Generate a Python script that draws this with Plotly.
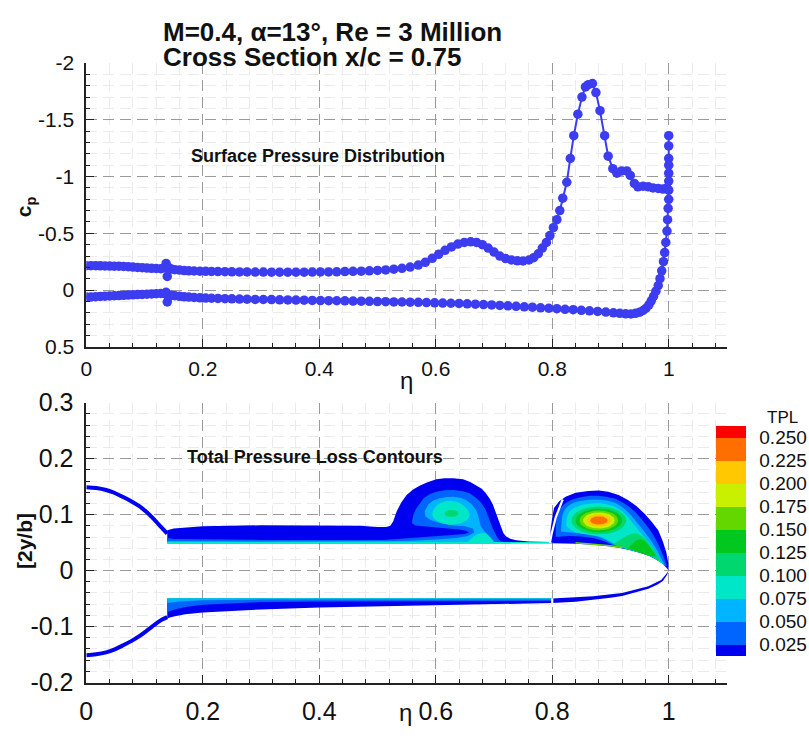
import math
import plotly.graph_objects as go

W, H = 809, 736

# ---------------- Surface pressure data ----------------
cp_upper_eta = [0.000, 0.008, 0.016, 0.024, 0.032, 0.040, 0.048, 0.056, 0.064, 0.072,
                0.080, 0.088, 0.096, 0.104, 0.112, 0.120, 0.128, 0.134, 0.137, 0.139,
                0.141, 0.146, 0.152, 0.160, 0.168, 0.176, 0.185, 0.195, 0.205, 0.215,
                0.226, 0.238, 0.250, 0.263, 0.276, 0.290, 0.304, 0.318, 0.332, 0.346,
                0.360, 0.374, 0.388, 0.402, 0.416, 0.430, 0.444, 0.458, 0.472, 0.486,
                0.500, 0.514, 0.528, 0.542, 0.556, 0.570, 0.582, 0.594, 0.605, 0.616,
                0.627, 0.638, 0.649, 0.660, 0.670, 0.680, 0.690, 0.700, 0.710, 0.720,
                0.730, 0.740, 0.750, 0.760, 0.768, 0.776, 0.783, 0.790, 0.796, 0.802,
                0.808, 0.813, 0.818, 0.825, 0.831, 0.837, 0.844, 0.851, 0.857, 0.862,
                0.869, 0.875, 0.882, 0.890, 0.896, 0.904, 0.911, 0.919, 0.928, 0.934,
                0.941, 0.947, 0.956, 0.965, 0.973, 0.982, 0.990, 0.997]
cp_upper = [-0.215, -0.215, -0.215, -0.214, -0.213, -0.212, -0.211, -0.210, -0.208, -0.206,
            -0.203, -0.200, -0.197, -0.194, -0.192, -0.190, -0.188, -0.195, -0.235, -0.120,
            -0.200, -0.185, -0.180, -0.176, -0.172, -0.170, -0.168, -0.166, -0.165, -0.164,
            -0.163, -0.162, -0.161, -0.160, -0.160, -0.159, -0.159, -0.158, -0.158, -0.158,
            -0.158, -0.158, -0.159, -0.160, -0.160, -0.161, -0.163, -0.165, -0.167, -0.170,
            -0.173, -0.178, -0.184, -0.192, -0.203, -0.220, -0.245, -0.280, -0.315, -0.350,
            -0.380, -0.405, -0.420, -0.425, -0.420, -0.400, -0.370, -0.335, -0.300, -0.278,
            -0.265, -0.258, -0.257, -0.265, -0.285, -0.320, -0.370, -0.420, -0.480, -0.550,
            -0.620, -0.700, -0.810, -0.950, -1.160, -1.360, -1.550, -1.700, -1.790, -1.810,
            -1.820, -1.740, -1.580, -1.360, -1.180, -1.070, -1.030, -1.050, -1.050, -1.010,
            -0.940, -0.910, -0.915, -0.910, -0.900, -0.895, -0.890, -0.900]

cp_lower_eta = [0.000, 0.008, 0.016, 0.024, 0.032, 0.040, 0.048, 0.056, 0.064, 0.072,
                0.080, 0.088, 0.096, 0.104, 0.112, 0.120, 0.128, 0.134, 0.137, 0.139,
                0.141, 0.146, 0.152, 0.160, 0.168, 0.176, 0.185, 0.195, 0.205, 0.215,
                0.226, 0.238, 0.250, 0.263, 0.276, 0.290, 0.304, 0.318, 0.332, 0.346,
                0.360, 0.374, 0.388, 0.402, 0.416, 0.430, 0.444, 0.458, 0.472, 0.486,
                0.500, 0.514, 0.528, 0.542, 0.556, 0.570, 0.584, 0.598, 0.612, 0.626,
                0.640, 0.654, 0.668, 0.682, 0.696, 0.710, 0.724, 0.738, 0.752, 0.766,
                0.780, 0.794, 0.808, 0.822, 0.836, 0.850, 0.864, 0.878, 0.892, 0.905,
                0.916, 0.926, 0.935, 0.943, 0.950, 0.956, 0.961, 0.966, 0.970, 0.974,
                0.978, 0.982, 0.985, 0.988, 0.991, 0.993, 0.995, 0.997, 0.998, 0.999,
                1.000, 1.000, 1.000, 1.000, 1.000, 1.000, 1.000, 1.000]
cp_lower = [0.060, 0.060, 0.058, 0.056, 0.054, 0.052, 0.050, 0.048, 0.046, 0.044,
            0.042, 0.040, 0.038, 0.036, 0.034, 0.032, 0.030, 0.030, 0.020, 0.105,
            0.060, 0.045, 0.050, 0.055, 0.059, 0.062, 0.065, 0.068, 0.070, 0.072,
            0.074, 0.076, 0.077, 0.079, 0.080, 0.082, 0.083, 0.084, 0.086, 0.087,
            0.088, 0.089, 0.091, 0.092, 0.093, 0.094, 0.095, 0.097, 0.098, 0.099,
            0.101, 0.102, 0.104, 0.105, 0.107, 0.108, 0.110, 0.112, 0.114, 0.116,
            0.118, 0.121, 0.124, 0.128, 0.131, 0.135, 0.139, 0.143, 0.147, 0.151,
            0.156, 0.160, 0.164, 0.169, 0.173, 0.178, 0.183, 0.188, 0.194, 0.200,
            0.205, 0.209, 0.210, 0.205, 0.195, 0.180, 0.160, 0.130, 0.095, 0.055,
            0.010, -0.040, -0.100, -0.170, -0.250, -0.330, -0.420, -0.520, -0.620, -0.720,
            -0.800, -0.880, -0.960, -1.030, -1.100, -1.160, -1.270, -1.360]

# ---------------- Total pressure loss contour levels ----------------
tpl_levels = [0.025, 0.050, 0.075, 0.100, 0.125, 0.150, 0.175, 0.200, 0.225, 0.250]
tpl_colors = ["#0000f0", "#0064ff", "#00b4ff", "#00e6c8", "#00d76e", "#00c81e",
              "#64d700", "#c8f000", "#ffc800", "#ff6e00", "#ff0000"]

# Filled contour regions (eta, 2y/b) vertices, each with its band index
up_l0 = [(0.139, 0.049), (0.139, 0.072), (0.15, 0.075), (0.17, 0.077), (0.2, 0.079), (0.3, 0.081),
         (0.4, 0.081), (0.47, 0.080), (0.50, 0.078), (0.515, 0.078), (0.522, 0.080), (0.527, 0.088),
         (0.533, 0.106), (0.541, 0.122), (0.550, 0.135), (0.561, 0.145), (0.573, 0.152), (0.586, 0.158),
         (0.601, 0.163), (0.615, 0.165), (0.630, 0.165), (0.647, 0.163), (0.660, 0.158), (0.670, 0.152),
         (0.679, 0.146), (0.686, 0.138), (0.693, 0.128), (0.698, 0.118), (0.702, 0.106), (0.706, 0.095),
         (0.709, 0.084), (0.712, 0.075), (0.716, 0.067), (0.721, 0.061), (0.728, 0.057), (0.738, 0.054),
         (0.76, 0.052), (0.797, 0.051), (0.797, 0.072), (0.800, 0.095), (0.803, 0.112), (0.812, 0.124),
         (0.823, 0.132), (0.840, 0.139), (0.862, 0.142), (0.880, 0.143), (0.896, 0.141), (0.914, 0.135),
         (0.930, 0.126), (0.945, 0.115), (0.959, 0.101), (0.971, 0.087), (0.982, 0.072), (0.990, 0.052),
         (0.996, 0.032), (0.999, 0.015), (1.0, 0.0), (0.99, 0.012), (0.98, 0.019), (0.965, 0.027),
         (0.94, 0.035), (0.919, 0.040), (0.90, 0.043), (0.87, 0.046), (0.84, 0.048), (0.80, 0.049)]
up_l1 = [(0.139, 0.049), (0.139, 0.058), (0.15, 0.0565), (0.2, 0.0555), (0.3, 0.0548), (0.45, 0.0545),
         (0.51, 0.0548), (0.54, 0.057), (0.57, 0.059), (0.60, 0.061), (0.63, 0.063), (0.65, 0.0655),
         (0.657, 0.068), (0.652, 0.071), (0.64, 0.0735), (0.62, 0.0755), (0.59, 0.078), (0.565, 0.0805),
         (0.559, 0.085), (0.561, 0.098), (0.566, 0.110), (0.579, 0.129), (0.590, 0.137), (0.601, 0.141),
         (0.615, 0.1435), (0.630, 0.144), (0.645, 0.142), (0.658, 0.138), (0.669, 0.130), (0.678, 0.121),
         (0.685, 0.110), (0.690, 0.098), (0.694, 0.086), (0.698, 0.075), (0.702, 0.065), (0.706, 0.058),
         (0.711, 0.053), (0.72, 0.050), (0.73, 0.049)]
up_l2 = [(0.139, 0.049), (0.139, 0.053), (0.3, 0.052), (0.50, 0.0525), (0.55, 0.053), (0.60, 0.0555),
         (0.635, 0.058), (0.655, 0.062), (0.666, 0.068), (0.664, 0.075), (0.65, 0.079), (0.628, 0.081),
         (0.608, 0.085), (0.592, 0.090), (0.582, 0.097), (0.581, 0.106), (0.587, 0.118), (0.596, 0.125),
         (0.607, 0.129), (0.619, 0.1315), (0.630, 0.132), (0.642, 0.130), (0.652, 0.126), (0.662, 0.118),
         (0.669, 0.108), (0.673, 0.098), (0.675, 0.089), (0.677, 0.080), (0.683, 0.071), (0.690, 0.063),
         (0.696, 0.056), (0.700, 0.051), (0.703, 0.049)]
up_l3_ring = [(0.594, 0.101), (0.597, 0.110), (0.604, 0.118), (0.614, 0.123), (0.626, 0.1245),
              (0.638, 0.122), (0.648, 0.116), (0.655, 0.108), (0.658, 0.100), (0.655, 0.092),
              (0.647, 0.0865), (0.636, 0.083), (0.624, 0.082), (0.612, 0.084), (0.602, 0.089),
              (0.596, 0.095), (0.594, 0.101)]
up_l3_bump = [(0.652, 0.049), (0.658, 0.054), (0.665, 0.061), (0.674, 0.066), (0.684, 0.067),
              (0.691, 0.062), (0.696, 0.056), (0.699, 0.049)]
up_l3_wall = [(0.139, 0.049), (0.139, 0.0512), (0.80, 0.0512), (0.80, 0.049)]
up_l4_core = [(0.615, 0.102), (0.618, 0.106), (0.627, 0.108), (0.636, 0.106), (0.639, 0.102),
              (0.636, 0.098), (0.627, 0.096), (0.618, 0.098), (0.615, 0.102)]

v2_l1 = [(0.806, 0.060), (0.806, 0.075), (0.807, 0.090), (0.811, 0.105), (0.820, 0.118), (0.835, 0.127),
         (0.860, 0.133), (0.885, 0.133), (0.905, 0.129), (0.925, 0.119), (0.943, 0.104), (0.958, 0.086),
         (0.972, 0.066), (0.983, 0.045), (0.991, 0.025), (0.996, 0.008), (0.99, 0.012), (0.98, 0.019),
         (0.965, 0.027), (0.94, 0.035), (0.92, 0.040), (0.905, 0.045), (0.89, 0.052), (0.87, 0.058),
         (0.85, 0.061), (0.83, 0.062), (0.815, 0.061)]
v2_l2 = [(0.815, 0.070), (0.816, 0.085), (0.818, 0.100), (0.824, 0.112), (0.837, 0.121), (0.860, 0.126),
         (0.885, 0.126), (0.905, 0.122), (0.922, 0.112), (0.936, 0.098), (0.950, 0.080), (0.965, 0.060),
         (0.978, 0.040), (0.987, 0.022), (0.993, 0.009), (0.985, 0.016), (0.965, 0.027), (0.94, 0.035),
         (0.92, 0.041), (0.905, 0.047), (0.89, 0.056), (0.87, 0.0625), (0.85, 0.066), (0.83, 0.068)]
v2_l3 = [(0.824, 0.080), (0.825, 0.092), (0.829, 0.104), (0.840, 0.113), (0.860, 0.119), (0.885, 0.120),
         (0.905, 0.115), (0.920, 0.106), (0.932, 0.093), (0.944, 0.077), (0.958, 0.060), (0.972, 0.042),
         (0.982, 0.024), (0.988, 0.013), (0.975, 0.023), (0.955, 0.031), (0.935, 0.037), (0.915, 0.044),
         (0.90, 0.052), (0.885, 0.060), (0.865, 0.064), (0.845, 0.067), (0.832, 0.072)]
v2_tail_l4 = [(0.905, 0.047), (0.918, 0.056), (0.932, 0.064), (0.946, 0.066), (0.958, 0.058),
              (0.968, 0.046), (0.977, 0.033), (0.985, 0.016), (0.975, 0.023), (0.955, 0.031),
              (0.935, 0.037), (0.92, 0.041)]
v2_tail_l5 = [(0.93, 0.040), (0.942, 0.052), (0.952, 0.056), (0.961, 0.050), (0.969, 0.040),
              (0.978, 0.026), (0.965, 0.027), (0.945, 0.034)]
v2_wall_l6 = [(0.84, 0.0485), (0.87, 0.046), (0.90, 0.043), (0.92, 0.040), (0.92, 0.0425),
              (0.90, 0.0455), (0.87, 0.0485), (0.84, 0.051)]
# vortex-2 core rings: centre and half-sizes per band
v2_core_center = (0.880, 0.0895)
v2_core_bands = [4, 5, 6, 7, 8, 9]
v2_core_half_eta = [0.047, 0.040, 0.033, 0.027, 0.021, 0.015]
v2_core_half_y = [0.025, 0.021, 0.018, 0.0145, 0.011, 0.0075]

low_l0 = [(0.139, -0.05), (0.139, -0.085), (0.15, -0.082), (0.17, -0.078), (0.2, -0.075), (0.25, -0.072),
          (0.3, -0.0695), (0.4, -0.066), (0.5, -0.064), (0.6, -0.062), (0.7, -0.060), (0.8, -0.058),
          (0.84, -0.0555), (0.87, -0.0525), (0.90, -0.0485), (0.92, -0.0455), (0.945, -0.039),
          (0.965, -0.0325), (0.98, -0.0255), (0.99, -0.0185), (0.997, -0.008), (1.0, 0.0),
          (0.995, -0.007), (0.987, -0.017), (0.965, -0.028), (0.92, -0.040), (0.87, -0.046),
          (0.84, -0.048), (0.80, -0.050)]
low_l1 = [(0.139, -0.05), (0.139, -0.074), (0.15, -0.070), (0.17, -0.065), (0.2, -0.061), (0.25, -0.058),
          (0.3, -0.0562), (0.4, -0.0552), (0.6, -0.0545), (0.8, -0.054), (0.8, -0.05)]
low_l2 = [(0.139, -0.05), (0.139, -0.058), (0.16, -0.055), (0.2, -0.0528), (0.3, -0.0518),
          (0.8, -0.0515), (0.8, -0.05)]
low_l3 = [(0.139, -0.05), (0.139, -0.0508), (0.8, -0.0508), (0.8, -0.05)]

up_arc = [(0.0, 0.149), (0.017, 0.1475), (0.034, 0.144), (0.048, 0.139), (0.062, 0.132), (0.077, 0.124),
          (0.091, 0.115), (0.103, 0.105), (0.113, 0.095), (0.122, 0.085), (0.131, 0.075), (0.139, 0.066)]
low_arc = [(0.0, -0.151), (0.017, -0.1495), (0.034, -0.146), (0.048, -0.141), (0.062, -0.134),
           (0.077, -0.126), (0.091, -0.117), (0.103, -0.108), (0.113, -0.100), (0.122, -0.093),
           (0.131, -0.087), (0.139, -0.083)]
slit_up = [(0.796, 0.049), (0.799, 0.066), (0.806, 0.095), (0.812, 0.113), (0.818, 0.127)]
slit_low = [(0.8, -0.0495), (0.8, -0.059)]

regions = [
    (up_l0, 0, "linear"), (low_l0, 0, "linear"),
    (up_l1, 1, "linear"), (v2_l1, 1, "spline"), (low_l1, 1, "linear"),
    (up_l2, 2, "linear"), (v2_l2, 2, "spline"), (low_l2, 2, "linear"),
    (up_l3_ring, 3, "spline"), (up_l3_bump, 3, "spline"), (up_l3_wall, 3, "linear"),
    (v2_l3, 3, "spline"), (low_l3, 3, "linear"),
    (up_l4_core, 4, "spline"), (v2_tail_l4, 4, "spline"), (v2_tail_l5, 5, "spline"),
    (v2_wall_l6, 6, "linear"),
]

# ---------------- figure ----------------
FONT = "Liberation Sans, Arial, Helvetica, sans-serif"
CP_BLUE = "#3c3cf0"
fig = go.Figure()

for xs, ys in ((cp_upper_eta, cp_upper), (cp_lower_eta, cp_lower)):
    fig.add_trace(go.Scatter(x=xs, y=ys, mode="lines+markers",
                             line=dict(color=CP_BLUE, width=2), marker=dict(color=CP_BLUE, size=9.5),
                             xaxis="x", yaxis="y", hoverinfo="skip", showlegend=False))


def add_region(pts, band, shape):
    fig.add_trace(go.Scatter(x=[p[0] for p in pts], y=[p[1] for p in pts], mode="lines",
                             fill="toself", fillcolor=tpl_colors[band],
                             line=dict(width=0, color=tpl_colors[band], shape=shape),
                             xaxis="x2", yaxis="y2", hoverinfo="skip", showlegend=False))


for pts, band, shape in regions:
    add_region(pts, band, shape)

cx, cy = v2_core_center
for band, hx, hy in zip(v2_core_bands, v2_core_half_eta, v2_core_half_y):
    angles = [2 * math.pi * k / 48 for k in range(49)]
    pts = [(cx + hx * math.cos(a), cy + hy * math.sin(a)) for a in angles]
    add_region(pts, band, "linear")

for arc in (up_arc, low_arc):
    fig.add_trace(go.Scatter(x=[p[0] for p in arc], y=[p[1] for p in arc], mode="lines",
                             line=dict(color=tpl_colors[0], width=4, shape="spline"),
                             xaxis="x2", yaxis="y2", hoverinfo="skip", showlegend=False))
for slit in (slit_up, slit_low):
    fig.add_trace(go.Scatter(x=[p[0] for p in slit], y=[p[1] for p in slit], mode="lines",
                             line=dict(color="white", width=2.2),
                             xaxis="x2", yaxis="y2", hoverinfo="skip", showlegend=False))

# discrete colour scale for the legend bar
cmin, cmax = 0.0125, 0.2625
bounds = [cmin] + tpl_levels + [cmax]
colorscale = []
for i, c in enumerate(tpl_colors):
    colorscale.append([(bounds[i] - cmin) / (cmax - cmin), c])
    colorscale.append([(bounds[i + 1] - cmin) / (cmax - cmin), c])

fig.add_trace(go.Scatter(x=[None], y=[None], mode="markers", xaxis="x2", yaxis="y2",
                         hoverinfo="skip", showlegend=False,
                         marker=dict(color=[0.1], colorscale=colorscale, cmin=cmin, cmax=cmax,
                                     showscale=True,
                                     colorbar=dict(x=715 / W, xanchor="left", thickness=30,
                                                   thicknessmode="pixels", len=230, lenmode="pixels",
                                                   y=1 - 548 / H, yanchor="middle", outlinewidth=0,
                                                   xpad=0, ypad=0, tickvals=tpl_levels,
                                                   ticktext=[f"{v:.3f}" for v in tpl_levels],
                                                   ticks="outside", ticklen=10, tickcolor="rgba(0,0,0,0)",
                                                   tickfont=dict(family=FONT, size=19, color="#111")))))

grid_major = dict(showgrid=True, gridcolor="#9a9a9a", gridwidth=1.1, griddash="11px,6px")
axis_common = dict(showline=True, linecolor="#222", linewidth=1.6, zeroline=False,
                   ticks="inside", ticklen=8, tickwidth=1.3, tickcolor="#222",
                   mirror=False, **grid_major)
x_ticks = [0, 0.2, 0.4, 0.6, 0.8, 1.0]
x_text = ["0", "0.2", "0.4", "0.6", "0.8", "1"]

fig.update_layout(
    width=W, height=H, margin=dict(l=0, r=0, t=0, b=0),
    paper_bgcolor="white", plot_bgcolor="white",
    font=dict(family=FONT, color="#111"),
    xaxis=dict(domain=[80 / W, 726.25 / W], range=[0, 1.1], anchor="y", tickvals=x_ticks, ticktext=x_text,
               tickfont=dict(size=21), ticklabelstandoff=2,
               minor=dict(dtick=0.04, tick0=0, ticks="inside", ticklen=4, tickcolor="#222",
                          showgrid=True, gridcolor="#ebebeb", gridwidth=1),
               **axis_common),
    yaxis=dict(domain=[1 - 346 / H, 1 - 51 / H], range=[0.5, -2], anchor="x",
               tickvals=[-2, -1.5, -1, -0.5, 0, 0.5], ticktext=["-2", "-1.5", "-1", "-0.5", "0", "0.5"],
               tickfont=dict(size=21), ticklabelstandoff=6,
               minor=dict(dtick=0.1, tick0=0, ticks="inside", ticklen=4, tickcolor="#222",
                          showgrid=True, gridcolor="#ebebeb", gridwidth=1),
               **axis_common),
    xaxis2=dict(domain=[80 / W, 726.25 / W], range=[0, 1.1], anchor="y2", tickvals=x_ticks, ticktext=x_text,
                tickfont=dict(size=25), ticklabelstandoff=6,
                minor=dict(dtick=0.04, tick0=0, ticks="inside", ticklen=4, tickcolor="#222",
                           showgrid=True, gridcolor="#ebebeb", gridwidth=1),
                **axis_common),
    yaxis2=dict(domain=[1 - 695 / H, 1 - 404 / H], range=[-0.2, 0.3], anchor="x2",
                tickvals=[-0.2, -0.1, 0, 0.1, 0.2, 0.3], ticktext=["-0.2", "-0.1", "0", "0.1", "0.2", "0.3"],
                tickfont=dict(size=25), ticklabelstandoff=6,
                minor=dict(dtick=0.02, tick0=0, ticks="inside", ticklen=4, tickcolor="#222",
                           showgrid=True, gridcolor="#ebebeb", gridwidth=1),
                **axis_common),
)


def ann(text, px, py, size, bold=True, xanchor="center", angle=0):
    fig.add_annotation(text=f"<b>{text}</b>" if bold else text, x=px / W, y=1 - py / H,
                       xref="paper", yref="paper", xanchor=xanchor, yanchor="middle",
                       showarrow=False, textangle=angle, font=dict(family=FONT, size=size, color="#111"))


ann("M=0.4, α=13°, Re = 3 Million", 155, 19, 26, xanchor="left")
ann("Cross Section x/c = 0.75", 155, 45, 26, xanchor="left")
ann("Surface Pressure Distribution", 314, 148, 18)
ann("Total Pressure Loss Contours", 311, 460, 18)
ann("c<sub>p</sub>", 19, 200, 21, angle=-90)
ann("[2y/b]", 17, 548, 21, angle=-90)
ann("η", 403, 381, 24, bold=False)
ann("η", 402, 726, 24, bold=False)
ann("TPL", 782, 419, 17, bold=False)

fig.write_html("out.html")
